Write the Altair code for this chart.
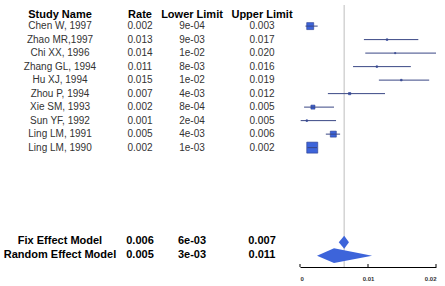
import altair as alt
import pandas as pd

# ---- data ----
studies = ["Chen W, 1997", "Zhao MR,1997", "Chi XX, 1996", "Zhang GL, 1994", "Hu XJ, 1994",
           "Zhou P, 1994", "Xie SM, 1993", "Sun YF, 1992", "Ling LM, 1991", "Ling LM, 1990"]
rate_labels = ["0.002", "0.013", "0.014", "0.011", "0.015", "0.007", "0.002", "0.001", "0.005", "0.002"]
lower_labels = ["9e-04", "9e-03", "1e-02", "8e-03", "1e-02", "4e-03", "8e-04", "2e-04", "4e-03", "1e-03"]
upper_labels = ["0.003", "0.017", "0.020", "0.016", "0.019", "0.012", "0.005", "0.005", "0.006", "0.002"]

rate = [0.0015, 0.0128, 0.0140, 0.0113, 0.0149, 0.0073, 0.0019, 0.0010, 0.0049, 0.0018]
lower = [0.0008, 0.0094, 0.0096, 0.0078, 0.0116, 0.0041, 0.0006, 0.0001, 0.0038, 0.0011]
upper = [0.0026, 0.0174, 0.0200, 0.0163, 0.0190, 0.0125, 0.0050, 0.0053, 0.0059, 0.0025]
weight = [19.6, 1.0, 0.6, 1.0, 1.0, 2.0, 6.4, 1.0, 14.4, 48.5]

models = ["Fix Effect Model", "Random Effect Model"]
model_rate_labels = ["0.006", "0.005"]
model_lower_labels = ["6e-03", "3e-03"]
model_upper_labels = ["0.007", "0.011"]
model_est = [0.0065, 0.0050]
model_lo = [0.0057, 0.0025]
model_hi = [0.0072, 0.0106]
model_half = [0.48, 0.55]

headers = ["Study Name", "Rate", "Lower Limit", "Upper Limit"]
tick_values = [0, 0.01, 0.02]

study_rows = list(range(1, 11))
model_rows = [17, 18]

# ---- tables ----
text_rows = []
for c, h in enumerate(headers):
    text_rows.append({"col": c, "row": 0, "label": h, "kind": "head"})
cols_study = [studies, rate_labels, lower_labels, upper_labels]
for c, vals in enumerate(cols_study):
    for r, v in zip(study_rows, vals):
        text_rows.append({"col": c, "row": r, "label": v, "kind": "study"})
cols_model = [models, model_rate_labels, model_lower_labels, model_upper_labels]
for c, vals in enumerate(cols_model):
    for r, v in zip(model_rows, vals):
        text_rows.append({"col": c, "row": r, "label": v, "kind": "model"})
text_df = pd.DataFrame(text_rows)

forest_df = pd.DataFrame({"row": study_rows, "rate": rate, "lower": lower,
                          "upper": upper, "weight": weight})

dia = []
for m, r, e, lo, hi, h in zip(models, model_rows, model_est, model_lo, model_hi, model_half):
    dia.append({"model": m, "x": lo, "y": r, "y2": r})
    dia.append({"model": m, "x": e, "y": r - h, "y2": r + h})
    dia.append({"model": m, "x": hi, "y": r, "y2": r})
dia_df = pd.DataFrame(dia)

ref_df = pd.DataFrame({"x": [model_est[0]]})
tick_df = pd.DataFrame({"x": tick_values})

W, H = 445, 267
yscale = alt.Scale(domain=[-0.933, 18.84], reverse=True, nice=False, zero=False)
xscale = alt.Scale(domain=[0, 0.02], range=[300, 436], nice=False, zero=False)
xaxis = alt.Axis(values=tick_values, format="~g", grid=False, ticks=False,
                 domainColor="#000000", domainWidth=1, labelFontSize=6,
                 labelFont="Liberation Sans", labelFontWeight="bold",
                 labelColor="#333333", labelPadding=8, title=None)
col_x = [60, 140, 192, 262]
styles = {
    "head": dict(fontSize=11, fontWeight="bold", color="#000000", dy=2),
    "study": dict(fontSize=10, fontWeight="normal", color="#333333", dy=0),
    "model": dict(fontSize=11, fontWeight="bold", color="#000000", dy=-1),
}

layers = []
# text table
for c in range(4):
    for kind, st in styles.items():
        base = alt.Chart(text_df).transform_filter(
            (alt.datum.col == c) & (alt.datum.kind == kind))
        layers.append(base.mark_text(font="Liberation Sans", align="center",
                                     baseline="middle", **st).encode(
            x=alt.value(col_x[c]),
            y=alt.Y("row:Q", scale=yscale, axis=None),
            text="label:N",
        ))

# reference line
layers.append(alt.Chart(ref_df).mark_rule(color="#d3d3d3", strokeWidth=1.5).encode(
    x=alt.X("x:Q", scale=xscale, axis=xaxis),
    y=alt.value(5), y2=alt.value(H),
))

# axis ticks pointing up
layers.append(alt.Chart(tick_df).mark_rule(color="#000000", strokeWidth=1).encode(
    x=alt.X("x:Q", scale=xscale, axis=xaxis),
    y=alt.value(H - 3), y2=alt.value(H),
))

# squares
layers.append(alt.Chart(forest_df).mark_point(shape="square", filled=True, opacity=1,
                                               color="#3d64da", stroke="#2a3d8c",
                                               strokeWidth=0.6).encode(
    x=alt.X("rate:Q", scale=xscale, axis=xaxis),
    y=alt.Y("row:Q", scale=yscale, axis=None),
    size=alt.Size("weight:Q", scale=alt.Scale(domain=[0, 48.5], range=[0, 121]), legend=None),
))

# CI lines
layers.append(alt.Chart(forest_df).mark_rule(color="#3a4785", strokeWidth=1).encode(
    x=alt.X("lower:Q", scale=xscale, axis=xaxis),
    x2="upper:Q",
    y=alt.Y("row:Q", scale=yscale, axis=None),
))

# diamonds
layers.append(alt.Chart(dia_df).mark_area(color="#3d64da", opacity=1, interpolate="linear").encode(
    x=alt.X("x:Q", scale=xscale, axis=xaxis),
    y=alt.Y("y:Q", scale=yscale, axis=None),
    y2="y2:Q",
    detail="model:N",
))

chart = alt.layer(*layers).properties(
    width=W, height=H,
    padding={"left": 0, "top": 0, "right": 0, "bottom": 19},
    autosize=alt.AutoSizeParams(type="none"),
    background="#ffffff",
).configure_view(stroke=None)

chart.save("out.html", embed_options={"renderer": "svg", "actions": False})
